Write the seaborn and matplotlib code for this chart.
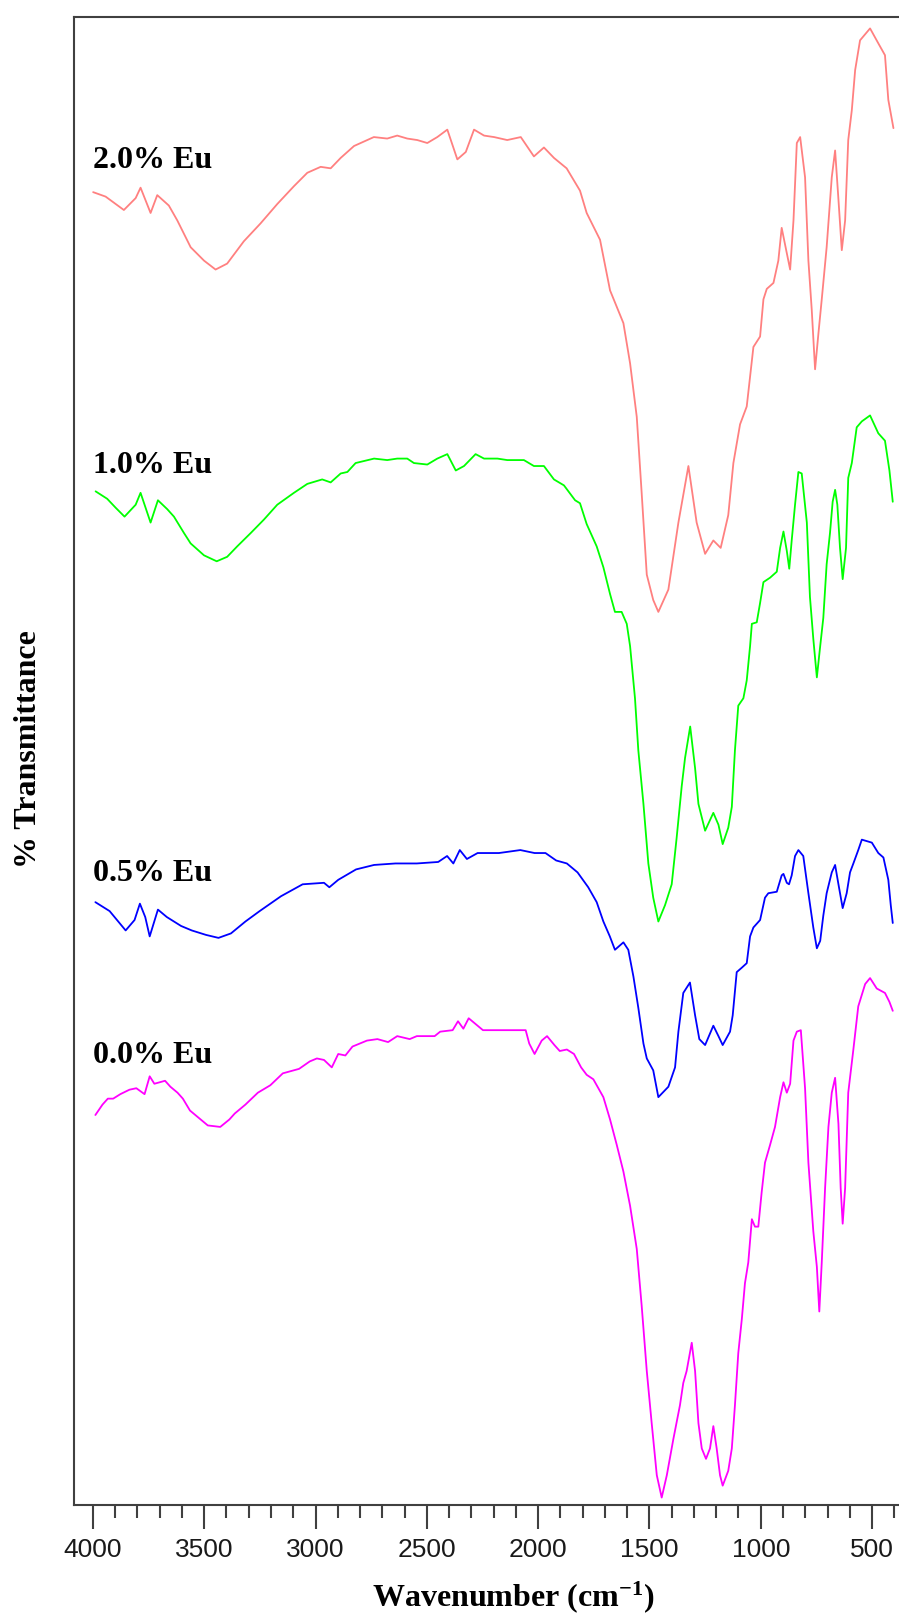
import matplotlib
matplotlib.use("Agg")
import matplotlib.pyplot as plt
import seaborn as sns
import pandas as pd
from matplotlib.ticker import MultipleLocator

# --- FTIR spectra (wavenumber in cm-1, % transmittance, offset stacked) ---
wn_eu20 = [3999, 3943, 3861, 3808, 3786, 3741, 3711, 3659, 3621, 3561, 3501, 3449, 3397, 3322,
           3247, 3172, 3097, 3037, 2977, 2932, 2887, 2827, 2738, 2678, 2633, 2588, 2543, 2498,
           2453, 2408, 2363, 2325, 2288, 2243, 2198, 2139, 2078, 2019, 1974, 1929, 1872, 1812,
           1782, 1722, 1677, 1617, 1587, 1557, 1535, 1512, 1483, 1460, 1415, 1370, 1325, 1288,
           1250, 1213, 1180, 1146, 1123, 1093, 1063, 1033, 1003, 988, 973, 943, 921, 906, 883,
           868, 853, 838, 823, 801, 786, 771, 756, 741, 726, 704, 681, 666, 651, 636, 621, 607,
           591, 576, 554, 509, 472, 442, 427, 404]
t_eu20 = [88.2, 87.9, 87.0, 87.8, 88.5, 86.8, 88.0, 87.3, 86.3, 84.5, 83.6, 83.0, 83.4, 84.9,
          86.1, 87.4, 88.6, 89.5, 89.9, 89.8, 90.5, 91.3, 91.9, 91.8, 92.0, 91.8, 91.7, 91.5,
          91.9, 92.4, 90.4, 90.9, 92.4, 92.0, 91.9, 91.7, 91.9, 90.6, 91.2, 90.5, 89.8, 88.3,
          86.8, 85.0, 81.6, 79.4, 76.7, 73.1, 68.0, 62.5, 60.8, 60.0, 61.5, 66.0, 69.8, 66.0,
          63.9, 64.8, 64.3, 66.5, 70.0, 72.6, 73.8, 77.8, 78.5, 81.0, 81.7, 82.1, 83.6, 85.8,
          84.1, 83.0, 86.3, 91.5, 91.9, 89.2, 83.6, 80.3, 76.3, 78.7, 81.0, 84.5, 89.2, 91.0,
          87.7, 84.3, 86.3, 91.7, 93.7, 96.4, 98.4, 99.2, 98.2, 97.4, 94.4, 92.5]

wn_eu10 = [3988, 3936, 3898, 3858, 3808, 3786, 3741, 3708, 3666, 3636, 3591, 3561, 3501, 3444,
           3397, 3352, 3291, 3232, 3172, 3097, 3037, 2970, 2932, 2887, 2857, 2820, 2737, 2678,
           2633, 2588, 2558, 2498, 2453, 2408, 2370, 2333, 2281, 2243, 2183, 2139, 2064, 2019,
           1974, 1929, 1884, 1834, 1812, 1782, 1737, 1707, 1677, 1655, 1625, 1602, 1587, 1565,
           1550, 1527, 1505, 1483, 1460, 1430, 1400, 1378, 1355, 1340, 1317, 1295, 1280, 1250,
           1213, 1190, 1171, 1146, 1130, 1116, 1101, 1078, 1063, 1048, 1040, 1018, 1003, 988,
           958, 928, 913, 898, 883, 872, 861, 846, 831, 816, 793, 779, 764, 748, 733, 719, 704,
           689, 677, 666, 656, 644, 632, 617, 607, 591, 569, 546, 509, 472, 442, 422, 407]
t_eu10 = [68.1, 67.6, 67.0, 66.4, 67.2, 68.0, 66.0, 67.5, 66.9, 66.4, 65.3, 64.6, 63.8, 63.4,
          63.7, 64.4, 65.3, 66.2, 67.2, 68.0, 68.6, 68.9, 68.7, 69.3, 69.4, 70.0, 70.3, 70.2,
          70.3, 70.3, 70.0, 69.9, 70.3, 70.6, 69.5, 69.8, 70.6, 70.3, 70.3, 70.2, 70.2, 69.8,
          69.8, 68.9, 68.5, 67.5, 67.3, 65.9, 64.4, 63.0, 61.2, 60.0, 60.0, 59.2, 57.7, 54.2,
          50.7, 47.1, 43.1, 40.8, 39.2, 40.3, 41.7, 44.8, 48.3, 50.2, 52.3, 49.5, 47.1, 45.3,
          46.5, 45.7, 44.4, 45.5, 46.9, 50.7, 53.7, 54.2, 55.4, 57.7, 59.2, 59.3, 60.6, 62.0,
          62.3, 62.7, 64.3, 65.4, 64.1, 62.9, 64.8, 67.2, 69.4, 69.3, 66.0, 61.0, 58.2, 55.6,
          57.7, 59.6, 63.2, 65.3, 67.4, 68.2, 67.2, 64.3, 62.2, 64.3, 69.0, 70.0, 72.4, 72.8,
          73.2, 72.0, 71.5, 69.5, 67.4]

wn_eu05 = [3989, 3925, 3853, 3813, 3789, 3765, 3745, 3708, 3668, 3604, 3556, 3492, 3436, 3380,
           3315, 3251, 3155, 3058, 2962, 2938, 2898, 2818, 2737, 2641, 2545, 2449, 2409, 2381,
           2352, 2320, 2272, 2176, 2080, 2016, 1967, 1919, 1871, 1823, 1775, 1737, 1707, 1678,
           1655, 1617, 1595, 1572, 1550, 1527, 1512, 1483, 1460, 1415, 1385, 1370, 1348, 1318,
           1295, 1276, 1250, 1213, 1190, 1171, 1138, 1126, 1108, 1085, 1063, 1048, 1033, 1003,
           981, 966, 928, 906, 898, 883, 873, 861, 846, 831, 809, 786, 764, 748, 733, 719, 704,
           681, 666, 651, 632, 614, 599, 584, 562, 546, 501, 472, 449, 427, 416, 407]
t_eu05 = [40.5, 39.9, 38.6, 39.3, 40.4, 39.5, 38.2, 40.0, 39.5, 38.9, 38.6, 38.3, 38.1, 38.4,
          39.2, 39.9, 40.9, 41.7, 41.8, 41.5, 42.0, 42.7, 43.0, 43.1, 43.1, 43.2, 43.6, 43.1,
          44.0, 43.4, 43.8, 43.8, 44.0, 43.8, 43.8, 43.3, 43.1, 42.5, 41.5, 40.5, 39.2, 38.2,
          37.3, 37.8, 37.3, 35.5, 33.4, 31.0, 30.0, 29.2, 27.4, 28.1, 29.4, 31.8, 34.4, 35.1,
          32.9, 31.3, 30.9, 32.2, 31.5, 30.9, 31.8, 32.9, 35.8, 36.1, 36.4, 38.2, 38.8, 39.3,
          40.8, 41.1, 41.2, 42.3, 42.4, 41.8, 41.7, 42.3, 43.6, 44.0, 43.6, 41.1, 38.8, 37.4,
          37.9, 39.6, 41.1, 42.5, 43.0, 41.7, 40.1, 41.1, 42.5, 43.1, 44.0, 44.7, 44.5, 43.8,
          43.5, 42.0, 40.3, 39.1]

wn_eu00 = [3989, 3957, 3933, 3909, 3877, 3836, 3805, 3768, 3745, 3724, 3700, 3676, 3652, 3620,
           3596, 3564, 3524, 3484, 3428, 3387, 3363, 3315, 3259, 3203, 3147, 3074, 3026, 2994,
           2962, 2927, 2898, 2866, 2834, 2769, 2722, 2674, 2633, 2577, 2545, 2465, 2440, 2384,
           2360, 2336, 2312, 2288, 2248, 2160, 2056, 2040, 2016, 1984, 1960, 1927, 1903, 1871,
           1839, 1807, 1782, 1752, 1707, 1677, 1647, 1617, 1587, 1557, 1535, 1512, 1490, 1467,
           1445, 1422, 1393, 1363, 1348, 1333, 1310, 1295, 1280, 1265, 1246, 1228, 1213, 1198,
           1183, 1171, 1146, 1130, 1116, 1101, 1085, 1071, 1056, 1040, 1026, 1011, 996, 981,
           958, 936, 913, 898, 883, 868, 853, 838, 820, 801, 786, 764, 748, 737, 726, 711, 696,
           681, 666, 651, 641, 632, 621, 607, 584, 562, 531, 509, 479, 442, 422, 407]
t_eu00 = [26.2, 26.9, 27.3, 27.3, 27.6, 27.9, 28.0, 27.6, 28.8, 28.3, 28.4, 28.5, 28.1, 27.7,
          27.3, 26.5, 26.0, 25.5, 25.4, 25.9, 26.3, 26.9, 27.7, 28.2, 29.0, 29.3, 29.8, 30.0,
          29.9, 29.4, 30.3, 30.2, 30.8, 31.2, 31.3, 31.1, 31.5, 31.3, 31.5, 31.5, 31.8, 31.9,
          32.5, 32.0, 32.7, 32.4, 31.9, 31.9, 31.9, 31.0, 30.3, 31.2, 31.5, 30.9, 30.5, 30.6,
          30.3, 29.4, 28.9, 28.6, 27.4, 25.9, 24.2, 22.4, 20.1, 17.2, 13.4, 9.0, 5.5, 2.0,
          0.5, 2.0, 4.4, 6.7, 8.2, 9.0, 10.9, 9.0, 5.5, 3.8, 3.1, 3.8, 5.3, 3.8,
          2.0, 1.3, 2.3, 3.8, 6.7, 10.2, 12.5, 14.9, 16.3, 19.2, 18.7, 18.7, 21.0, 23.0,
          24.2, 25.4, 27.4, 28.4, 27.7, 28.3, 31.2, 31.8, 31.9, 28.0, 23.0, 18.4, 16.0, 13.0,
          16.3, 21.3, 25.4, 27.7, 28.7, 25.6, 21.3, 18.9, 21.3, 27.7, 30.6, 33.5, 35.0, 35.4,
          34.7, 34.4, 33.8, 33.2]

labels = ["2.0% Eu", "1.0% Eu", "0.5% Eu", "0.0% Eu"]
colors = ["#FF8080", "#00FF00", "#0000FF", "#FF00FF"]
label_y = [89.8, 69.3, 41.9, 29.7]

sns.set_style("white")
plt.rcParams["font.family"] = ["Liberation Sans", "DejaVu Sans"]
plt.rcParams["mathtext.fontset"] = "custom"
plt.rcParams["mathtext.bf"] = "Liberation Serif:bold"
plt.rcParams["mathtext.rm"] = "Liberation Serif:bold"

fig = plt.figure(figsize=(8.99, 16.19), dpi=100)
ax = fig.add_axes([74 / 899, 1 - 1505 / 1619, 825 / 899, 1488.5 / 1619])

series = [(wn_eu20, t_eu20), (wn_eu10, t_eu10), (wn_eu05, t_eu05), (wn_eu00, t_eu00)]
for (wn, t), lab, col in zip(series, labels, colors):
    df = pd.DataFrame({"wavenumber": wn, "T": t})
    sns.lineplot(data=df, x="wavenumber", y="T", color=col, linewidth=1.3, ax=ax)

for lab, ly in zip(labels, label_y):
    ax.text(4000, ly, lab, ha="left", va="baseline", fontsize=23, fontweight="bold",
            family="Liberation Serif", color="black")

ax.set_xlim(4085, 379)
ax.set_ylim(0, 100)
ax.set_yticks([])
ax.xaxis.set_major_locator(MultipleLocator(500))
ax.xaxis.set_minor_locator(MultipleLocator(100))

for side in ["left", "top", "bottom"]:
    ax.spines[side].set_color("#404040")
    ax.spines[side].set_linewidth(1.5)
ax.spines["right"].set_visible(False)

ax.tick_params(axis="x", which="major", direction="out", length=17, width=1.5,
               color="#404040", labelsize=19, labelcolor="#1a1a1a", pad=7, bottom=True)
ax.tick_params(axis="x", which="minor", direction="out", length=9, width=1.5,
               color="#404040", bottom=True)

ax.set_xlabel(r"Wavenumber (cm$\mathbf{^{-1}}$)", fontsize=23, fontweight="bold",
              family="Liberation Serif", color="black")
ax.set_ylabel("% Transmittance", fontsize=23, fontweight="bold", family="Liberation Serif",
              color="black")
ax.xaxis.set_label_coords(0.532, -0.05)
ax.yaxis.set_label_coords(-0.038, 0.508)

fig.savefig("out.png", dpi=100)
